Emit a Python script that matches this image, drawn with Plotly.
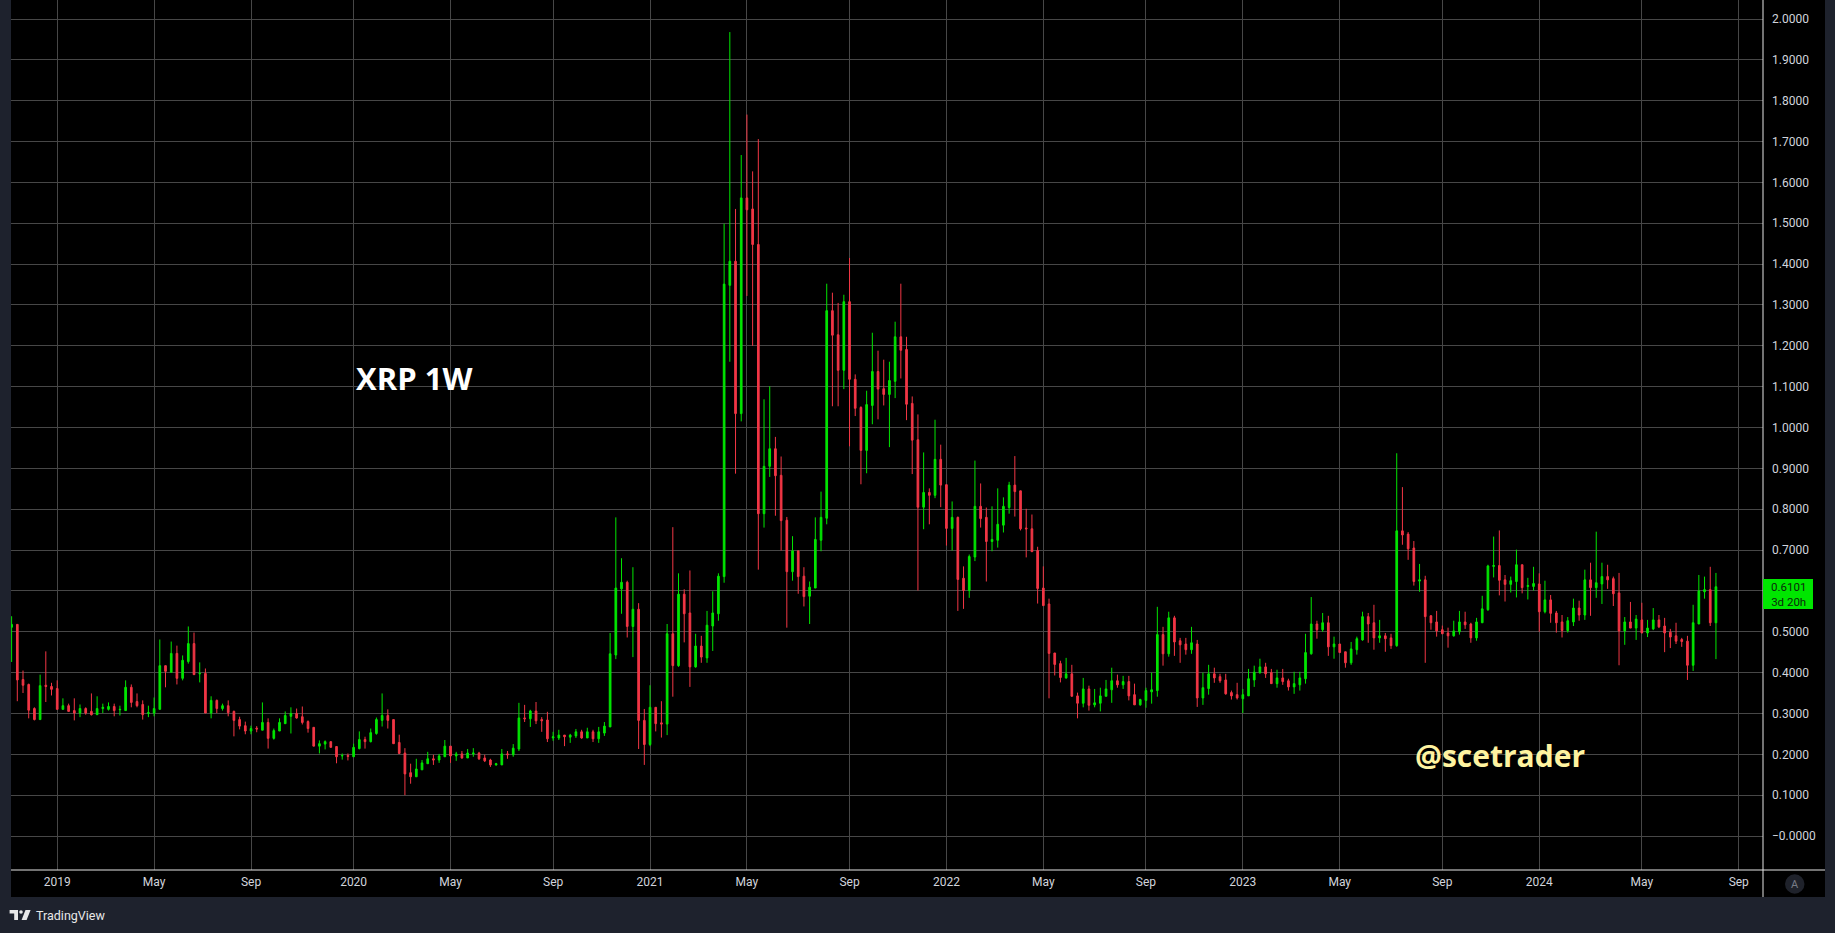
import plotly.graph_objects as go
import pandas as pd

# ---------------- data (XRP weekly) ----------------
first_week = "2018-11-12"

opens = [
    .511,.518,.383,.371,.312,.285,.369,.366,.361,.310,
    .319,.307,.301,.312,.305,.297,.312,.310,.317,.309,
    .307,.364,.329,.322,.300,.301,.310,.417,.401,.447,
    .386,.427,.471,.397,.398,.301,.332,.312,.319,.305,
    .285,.270,.257,.264,.259,.278,.239,.257,.275,.293,
    .300,.292,.280,.266,.220,.225,.231,.219,.196,.197,
    .194,.214,.236,.231,.251,.283,.295,.285,.229,.203,
    .155,.145,.162,.177,.189,.186,.194,.220,.196,.201,
    .191,.201,.203,.191,.186,.174,.174,.201,.199,.213,
    .289,.287,.306,.285,.284,.240,.240,.247,.242,.245,
    .255,.240,.255,.238,.252,.267,.443,.605,.621,.513,
    .555,.283,.224,.315,.277,.274,.495,.417,.592,.546,
    .414,.465,.436,.514,.544,.635,1.348,1.407,1.034,1.562,
    1.535,1.448,.789,.905,.948,.883,.773,.647,.698,.636,
    .587,.607,.724,.778,1.286,1.227,1.140,1.308,1.118,1.049,
    .944,1.054,1.137,1.095,1.081,1.113,1.222,1.191,1.059,.970,
    .805,.841,.834,.922,.860,.753,.780,.631,.601,.683,
    .807,.780,.721,.724,.761,.804,.859,.845,.754,.752,
    .699,.607,.568,.448,.422,.387,.397,.343,.325,.360,
    .321,.325,.342,.358,.380,.370,.378,.346,.321,.332,
    .353,.356,.493,.446,.534,.478,.470,.456,.470,.338,
    .361,.397,.390,.382,.351,.346,.336,.343,.382,.400,
    .414,.400,.373,.387,.380,.365,.370,.385,.446,.519,
    .505,.522,.463,.470,.451,.424,.456,.480,.537,.522,
    .485,.490,.485,.466,.747,.739,.705,.624,.627,.539,
    .524,.505,.497,.490,.500,.524,.519,.485,.522,.554,
    .660,.662,.627,.616,.623,.664,.611,.611,.617,.549,
    .578,.546,.524,.503,.524,.558,.541,.627,.608,.617,
    .635,.630,.595,.502,.524,.509,.529,.497,.507,.529,
    .514,.499,.490,.481,.477,.418,.519,.598,.603,.522,
]

highs = [
    .538,.518,.405,.373,.315,.395,.452,.375,.381,.337,
    .324,.337,.322,.315,.349,.342,.324,.327,.324,.319,
    .381,.371,.349,.332,.319,.339,.481,.417,.476,.466,
    .442,.513,.498,.425,.410,.342,.334,.324,.332,.307,
    .292,.280,.270,.269,.327,.288,.263,.288,.305,.315,
    .312,.317,.283,.266,.234,.234,.231,.219,.202,.202,
    .226,.256,.243,.263,.290,.349,.310,.285,.248,.215,
    .177,.189,.186,.206,.199,.201,.235,.220,.206,.208,
    .213,.215,.206,.199,.189,.179,.213,.208,.225,.326,
    .321,.309,.328,.291,.304,.255,.260,.247,.250,.262,
    .260,.265,.260,.267,.279,.497,.780,.680,.625,.658,
    .570,.311,.369,.315,.330,.519,.756,.643,.604,.650,
    .495,.490,.551,.599,.643,1.499,1.968,1.535,1.667,1.766,
    1.627,1.706,1.069,1.101,.977,.929,.781,.734,.698,.658,
    .623,.780,.843,1.352,1.330,1.305,1.325,1.415,1.130,1.052,
    1.090,1.232,1.188,1.166,1.161,1.259,1.352,1.222,1.076,1.032,
    .939,.851,1.019,.958,.860,.819,.782,.660,.689,.919,
    .863,.804,.807,.851,.829,.867,.930,.845,.801,.787,
    .708,.660,.581,.448,.429,.436,.419,.351,.387,.368,
    .360,.363,.382,.412,.395,.392,.392,.373,.336,.363,
    .400,.561,.512,.549,.539,.485,.485,.512,.480,.400,
    .419,.412,.397,.397,.356,.375,.360,.409,.417,.434,
    .424,.409,.407,.409,.385,.402,.402,.495,.585,.527,
    .546,.539,.488,.470,.451,.475,.488,.549,.546,.566,
    .529,.497,.495,.937,.854,.744,.722,.666,.637,.541,
    .551,.515,.510,.527,.551,.549,.522,.534,.588,.664,
    .733,.748,.639,.635,.701,.664,.632,.659,.643,.625,
    .590,.551,.541,.536,.581,.576,.652,.669,.745,.669,
    .664,.635,.644,.536,.573,.541,.571,.529,.558,.541,
    .534,.507,.522,.485,.490,.566,.639,.635,.659,.644,
]

lows = [
    .426,.330,.350,.288,.283,.285,.328,.344,.310,.310,
    .305,.283,.291,.297,.295,.297,.301,.307,.293,.295,
    .307,.315,.315,.285,.291,.293,.310,.364,.400,.371,
    .381,.422,.395,.376,.301,.288,.301,.307,.293,.244,
    .261,.249,.249,.254,.259,.214,.236,.257,.275,.251,
    .287,.273,.253,.220,.202,.212,.217,.178,.187,.185,
    .194,.212,.214,.229,.248,.268,.263,.226,.202,.100,
    .128,.145,.162,.177,.174,.179,.194,.179,.184,.189,
    .191,.194,.186,.181,.169,.172,.174,.189,.194,.208,
    .279,.267,.274,.255,.230,.233,.235,.220,.228,.240,
    .238,.240,.230,.228,.245,.267,.433,.544,.486,.438,
    .213,.174,.220,.256,.241,.247,.341,.414,.474,.365,
    .412,.424,.424,.453,.527,.620,1.161,.887,1.015,1.322,
    1.200,.652,.755,.879,.784,.699,.510,.625,.593,.562,
    .519,.607,.697,.763,1.052,1.052,1.094,.954,1.028,.861,
    .888,1.008,1.020,1.054,.952,1.072,1.120,1.018,.886,.601,
    .751,.763,.827,.805,.711,.699,.551,.556,.583,.673,
    .755,.623,.697,.706,.743,.789,.782,.748,.682,.696,
    .569,.564,.337,.393,.376,.385,.342,.288,.315,.307,
    .315,.305,.342,.326,.363,.360,.332,.321,.319,.314,
    .324,.341,.417,.439,.441,.424,.444,.446,.316,.321,
    .346,.375,.375,.346,.334,.334,.301,.343,.365,.397,
    .387,.373,.363,.370,.356,.348,.356,.373,.444,.483,
    .500,.441,.434,.449,.412,.419,.444,.478,.473,.456,
    .473,.451,.458,.463,.713,.676,.613,.598,.424,.505,
    .488,.495,.461,.488,.493,.507,.473,.478,.522,.551,
    .633,.589,.574,.596,.584,.594,.579,.601,.500,.545,
    .522,.498,.486,.498,.514,.527,.529,.539,.583,.568,
    .605,.563,.418,.468,.509,.480,.497,.487,.504,.509,
    .450,.460,.470,.463,.382,.404,.519,.581,.514,.433,
]

closes = [
    .518,.382,.369,.308,.285,.368,.366,.359,.310,.319,
    .305,.301,.312,.301,.297,.312,.315,.317,.307,.310,
    .364,.327,.319,.297,.302,.312,.417,.403,.447,.386,
    .430,.471,.395,.398,.301,.332,.312,.319,.302,.283,
    .269,.257,.263,.262,.278,.239,.258,.278,.295,.300,
    .289,.278,.263,.220,.226,.231,.217,.194,.197,.195,
    .217,.236,.231,.253,.285,.295,.283,.226,.202,.152,
    .145,.164,.179,.189,.186,.196,.220,.196,.201,.191,
    .203,.203,.189,.184,.174,.177,.201,.199,.215,.289,
    .287,.306,.282,.282,.238,.243,.247,.243,.247,.255,
    .240,.255,.238,.255,.269,.446,.607,.621,.513,.555,
    .283,.224,.315,.275,.274,.495,.417,.592,.544,.414,
    .465,.438,.516,.546,.636,1.351,1.407,1.034,1.562,1.533,
    1.448,.789,.905,.948,.882,.772,.647,.698,.635,.586,
    .609,.726,.780,1.286,1.226,1.140,1.308,1.118,1.047,.944,
    1.056,1.137,1.094,1.081,1.115,1.222,1.189,1.057,.969,.805,
    .841,.834,.922,.859,.753,.780,.628,.601,.684,.807,
    .777,.721,.726,.763,.807,.859,.843,.752,.752,.696,
    .606,.564,.447,.420,.388,.397,.342,.325,.360,.320,
    .326,.343,.360,.380,.370,.378,.343,.321,.334,.356,
    .358,.493,.446,.534,.475,.468,.456,.473,.338,.363,
    .397,.387,.380,.348,.343,.338,.346,.385,.401,.414,
    .397,.373,.387,.378,.365,.373,.387,.449,.519,.505,
    .522,.463,.470,.449,.424,.458,.483,.537,.519,.485,
    .490,.483,.466,.747,.737,.703,.623,.627,.537,.522,
    .502,.495,.490,.502,.524,.517,.485,.524,.556,.661,
    .662,.626,.616,.625,.664,.608,.613,.618,.549,.578,
    .545,.522,.503,.527,.558,.541,.627,.608,.620,.635,
    .627,.593,.502,.524,.509,.531,.497,.509,.529,.512,
    .497,.487,.477,.476,.418,.522,.600,.603,.522,.6101,
]

x_tick_dates = ["2019-01-07", "2019-05-06", "2019-09-02", "2020-01-06", "2020-05-04",
                "2020-09-07", "2021-01-04", "2021-05-03", "2021-09-06", "2022-01-03",
                "2022-05-02", "2022-09-05", "2023-01-02", "2023-05-01", "2023-09-04",
                "2024-01-01", "2024-05-06", "2024-09-02"]
x_tick_labels = ["2019", "May", "Sep", "2020", "May", "Sep", "2021", "May", "Sep",
                 "2022", "May", "Sep", "2023", "May", "Sep", "2024", "May", "Sep"]

y_tick_vals = [round(0.1 * k, 1) for k in range(21)]
y_tick_labels = ["\u22120.0000"] + ["%.4f" % v for v in y_tick_vals[1:]]
y_tick_labels[6] = ""  # hidden behind last-price label

last_price_text = "0.6101"
countdown_text = "3d 20h"

# ---------------- layout geometry ----------------
W, H = 1835, 933
L, R, T, B = 11, 1763, 0, 870   # plot area in pixels


def px(x):
    return (x - L) / (R - L)


def py(y):
    return (B - y) / (B - T)


GREEN = "#00e600"
RED = "#f23645"
GRID = "#474747"
AXIS_TXT = "#d1d4dc"
PANEL = "#1e222d"

dates = pd.date_range(first_week, periods=len(opens), freq="7D")

fig = go.Figure()
fig.add_trace(go.Candlestick(
    x=dates, open=opens, high=highs, low=lows, close=closes,
    increasing=dict(line=dict(color=GREEN, width=1), fillcolor=GREEN),
    decreasing=dict(line=dict(color=RED, width=1), fillcolor=RED),
    whiskerwidth=0, showlegend=False, hoverinfo="skip",
))

shapes = []
# black axis panels
shapes.append(dict(type="rect", xref="paper", yref="paper", x0=px(L), x1=px(1825),
                   y0=py(897), y1=py(B), fillcolor="#000000", line=dict(width=0), layer="below"))
shapes.append(dict(type="rect", xref="paper", yref="paper", x0=px(R), x1=px(1825),
                   y0=py(897), y1=py(0), fillcolor="#000000", line=dict(width=0), layer="below"))
# white axis separators
shapes.append(dict(type="line", xref="paper", yref="paper", x0=px(L), x1=px(1825),
                   y0=py(B), y1=py(B), line=dict(color="#e6e6e6", width=1)))
shapes.append(dict(type="line", xref="paper", yref="paper", x0=px(R), x1=px(R),
                   y0=py(0), y1=py(897), line=dict(color="#e6e6e6", width=1)))
# "A" auto-scale button
shapes.append(dict(type="circle", xref="paper", yref="paper", x0=px(1785), x1=px(1804.5),
                   y0=py(893.7), y1=py(874.3), fillcolor="#1f222b", line=dict(width=0)))
# last price label
shapes.append(dict(type="rect", xref="paper", yref="paper", x0=px(R), x1=px(1813),
                   y0=py(609), y1=py(579), fillcolor=GREEN, line=dict(width=0)))


def path_px(points):
    s = "M " + " L ".join("%.6f %.6f" % (px(a), py(b)) for a, b in points) + " Z"
    return s


# TradingView logo (simplified)
shapes.append(dict(type="path", xref="paper", yref="paper",
                   path=path_px([(9.6, 910), (18, 910), (18, 920), (14.2, 920), (14.2, 913.6), (9.6, 913.6)]),
                   fillcolor="#e8e8e8", line=dict(width=0)))
shapes.append(dict(type="circle", xref="paper", yref="paper", x0=px(19.2), x1=px(22.8),
                   y0=py(913.8), y1=py(910.2), fillcolor="#e8e8e8", line=dict(width=0)))
shapes.append(dict(type="path", xref="paper", yref="paper",
                   path=path_px([(25.5, 910), (30.6, 910), (26.6, 920), (21.6, 920)]),
                   fillcolor="#e8e8e8", line=dict(width=0)))

annotations = [
    dict(text="<b>XRP 1W</b>", xref="paper", yref="paper", x=px(414), y=py(378),
         showarrow=False, font=dict(family="Open Sans", size=31, color="#ffffff"),
         xanchor="center", yanchor="middle"),
    dict(text="<b>@scetrader</b>", xref="paper", yref="paper", x=px(1500), y=py(755),
         showarrow=False, font=dict(family="Open Sans", size=30, color="#fff3a0"),
         xanchor="center", yanchor="middle"),
    dict(text=last_price_text + "<br>" + countdown_text, xref="paper", yref="paper",
         x=px(1788), y=py(594), showarrow=False, align="center",
         font=dict(family="Roboto", size=11.5, color="#0b2a0b"),
         xanchor="center", yanchor="middle"),
    dict(text="A", xref="paper", yref="paper", x=px(1794.8), y=py(884), showarrow=False,
         font=dict(family="Roboto", size=11, color="#787b86"), xanchor="center", yanchor="middle"),
    dict(text="TradingView", xref="paper", yref="paper", x=px(33.5), y=py(915), showarrow=False,
         font=dict(family="Roboto", size=12.5, color="#e8e8e8"), xanchor="left", yanchor="middle"),
]

x_left = "2018-11-11 06:00"
x_right = "2024-10-01 19:00"
y_low = (836 - B) / 408.5
y_high = (836 - T) / 408.5

fig.update_layout(
    width=W, height=H,
    margin=dict(l=L, r=W - R, t=T, b=H - B, autoexpand=False),
    paper_bgcolor=PANEL, plot_bgcolor="#000000",
    shapes=shapes, annotations=annotations,
    boxgap=0.58,
    xaxis=dict(type="date", range=[x_left, x_right], rangeslider=dict(visible=False),
               tickvals=list(pd.to_datetime(x_tick_dates)), ticktext=x_tick_labels,
               showgrid=True, gridcolor=GRID, gridwidth=1, zeroline=False, showline=False,
               ticks="", tickfont=dict(family="Roboto", size=12, color=AXIS_TXT),
               ticklabelstandoff=3),
    yaxis=dict(side="right", range=[y_low, y_high], tickvals=y_tick_vals, ticktext=y_tick_labels,
               showgrid=True, gridcolor=GRID, gridwidth=1, zeroline=False, showline=False,
               ticks="", tickfont=dict(family="Roboto", size=12, color=AXIS_TXT),
               ticklabelstandoff=8),
    hovermode=False,
)

fig.write_html(
    "out.html",
    config={"displayModeBar": False, "staticPlot": True},
    post_script="document.body.style.margin='0';document.body.style.overflow='hidden';"
                "document.body.style.background='#1e222d';",
)
